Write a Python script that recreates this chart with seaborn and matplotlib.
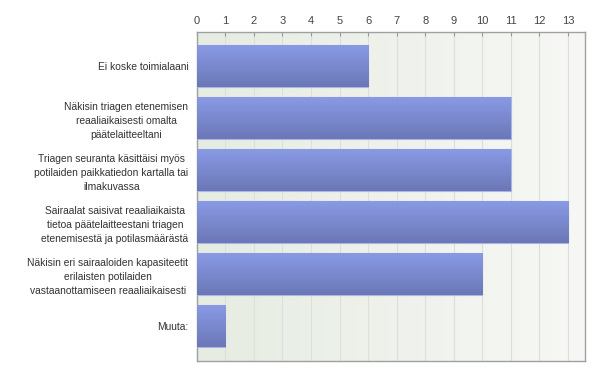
import matplotlib
matplotlib.use("Agg")
import matplotlib.pyplot as plt
import numpy as np
import pandas as pd
import seaborn as sns
from matplotlib.colors import LinearSegmentedColormap

categories = [
    "Ei koske toimialaani",
    "Näkisin triagen etenemisen\nreaaliaikaisesti omalta\npäätelaitteeltani",
    "Triagen seuranta käsittäisi myös\npotilaiden paikkatiedon kartalla tai\nilmakuvassa",
    "Sairaalat saisivat reaaliaikaista\ntietoa päätelaitteestani triagen\netenemisestä ja potilasmäärästä",
    "Näkisin eri sairaaloiden kapasiteetit\nerilaisten potilaiden\nvastaanottamiseen reaaliaikaisesti",
    "Muuta:",
]
counts = [6, 11, 11, 13, 10, 1]
xticks = list(range(0, 14))

df = pd.DataFrame({"label": categories, "count": counts})

sns.set_style("white")
plt.rcParams["font.family"] = ["Liberation Sans", "DejaVu Sans"]

fig = plt.figure(figsize=(6, 3.76), dpi=100)
ax = fig.add_axes([0.328, 0.04, 0.647, 0.875])

sns.barplot(data=df, x="count", y="label", orient="h", color="#7b88d0",
            width=0.81, ax=ax, zorder=3)

XMAX = 13.6
YLIM = (5.67, -0.66)

# background gradient
bg = LinearSegmentedColormap.from_list("bg", ["#e6ece2", "#f7f8f5"])
ax.imshow(np.linspace(0, 1, 256).reshape(1, -1), cmap=bg, aspect="auto",
          extent=[0, XMAX, YLIM[0], YLIM[1]], zorder=0)

# vertical gradient on bars
barcm = LinearSegmentedColormap.from_list("bar", ["#8a9be6", "#6b77b6"])
grad = np.linspace(0, 1, 256).reshape(-1, 1)
for p in ax.patches:
    x0, y0 = p.get_x(), p.get_y()
    w, h = p.get_width(), p.get_height()
    im = ax.imshow(grad, cmap=barcm, aspect="auto",
                   extent=[x0, x0 + w, y0 + h, y0], zorder=4)
    im.set_clip_path(p)
    p.set_edgecolor("#aab5e6")
    p.set_linewidth(0.8)

ax.set_xlim(0, XMAX)
ax.set_ylim(*YLIM)

ax.xaxis.tick_top()
ax.set_xticks(xticks)
ax.set_xticklabels([str(t) for t in xticks], fontsize=8, color="#444444")
ax.tick_params(axis="x", direction="in", length=3, color="#999999", pad=4)
ax.tick_params(axis="y", length=0, pad=6)
ax.set_yticklabels(categories, fontsize=7.4, color="#333333",
                   multialignment="center", linespacing=1.5)
ax.set_xlabel("")
ax.set_ylabel("")
ax.grid(axis="x", color="#dcdfdc", linewidth=0.8, zorder=1)
ax.set_axisbelow(True)
for s in ax.spines.values():
    s.set_color("#a0a0a0")
    s.set_linewidth(1)

fig.savefig("out.png", dpi=100)
